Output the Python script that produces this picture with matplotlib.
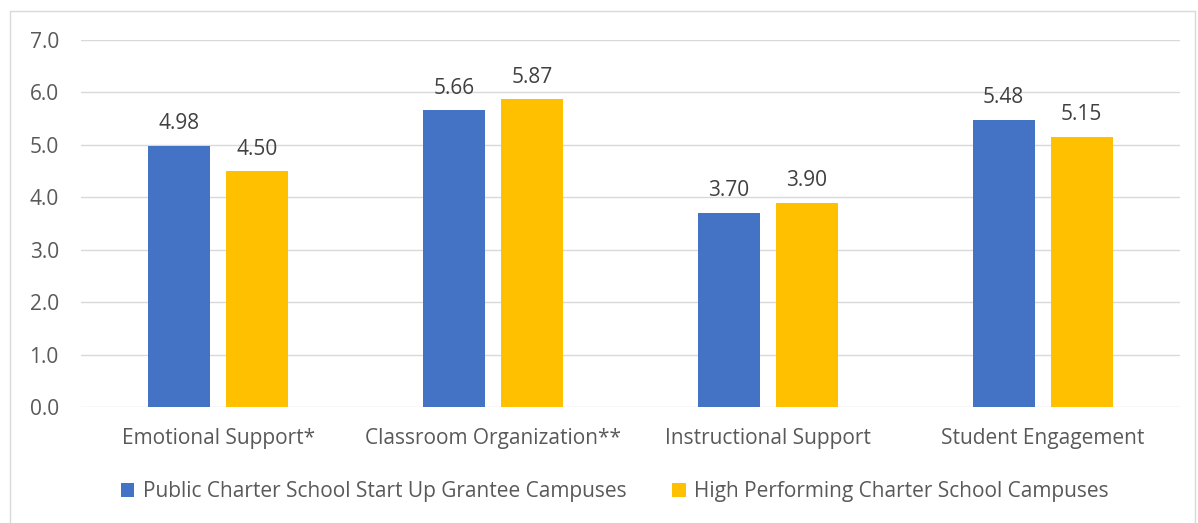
import matplotlib.pyplot as plt
import numpy as np
from matplotlib.patches import Rectangle

# data
categories = ["Emotional Support*", "Classroom Organization**", "Instructional Support", "Student Engagement"]
grantee = [4.98, 5.66, 3.70, 5.48]
high_perf = [4.50, 5.87, 3.90, 5.15]
series_names = ["Public Charter School Start Up Grantee Campuses",
                "High Performing Charter School Campuses"]

plt.rcParams['font.family'] = ['Open Sans', 'DejaVu Sans']
text_color = '#595959'
fs = 15

fig = plt.figure(figsize=(11.98, 5.23), dpi=100)
ax = fig.add_axes([81 / 1198, 1 - 407 / 523, (1180 - 81) / 1198, (407 - 40) / 523])

x = np.arange(len(categories))
w = 0.225
off = 0.142
b1 = ax.bar(x - off, grantee, w, color='#4472C4', label=series_names[0], zorder=3)
b2 = ax.bar(x + off, high_perf, w, color='#FFC000', label=series_names[1], zorder=3)

for bars, vals in ((b1, grantee), (b2, high_perf)):
    for r, v in zip(bars, vals):
        ax.text(r.get_x() + r.get_width() / 2, v + 0.22, f"{v:.2f}",
                ha='center', va='bottom', fontsize=fs, color='#404040')

ax.set_xlim(-0.5, 3.5)
ax.set_ylim(0, 7)
ax.set_yticks(np.arange(0, 8, 1))
ax.set_yticklabels([f"{v:.1f}" for v in range(8)])
ax.set_xticks(x)
ax.set_xticklabels(categories)
ax.tick_params(length=0, labelsize=fs, colors=text_color)
ax.tick_params(axis='x', pad=15)
ax.tick_params(axis='y', pad=16)
ax.grid(axis='y', color='#D9D9D9', linewidth=1, zorder=0)
for s in ax.spines.values():
    s.set_visible(False)

leg = fig.legend(loc='center', bbox_to_anchor=(0.513, 1 - 492 / 523), ncol=2,
                 frameon=False, fontsize=fs, handlelength=0.65, handleheight=0.65,
                 columnspacing=2.2, handletextpad=0.4)
for t in leg.get_texts():
    t.set_color(text_color)

fig.patches.append(Rectangle((10 / 1198, -0.01), (1195 - 10) / 1198, 1 - 11 / 523 + 0.01,
                             transform=fig.transFigure, fill=False,
                             edgecolor='#D9D9D9', linewidth=1))

fig.savefig('out.png', dpi=100)
